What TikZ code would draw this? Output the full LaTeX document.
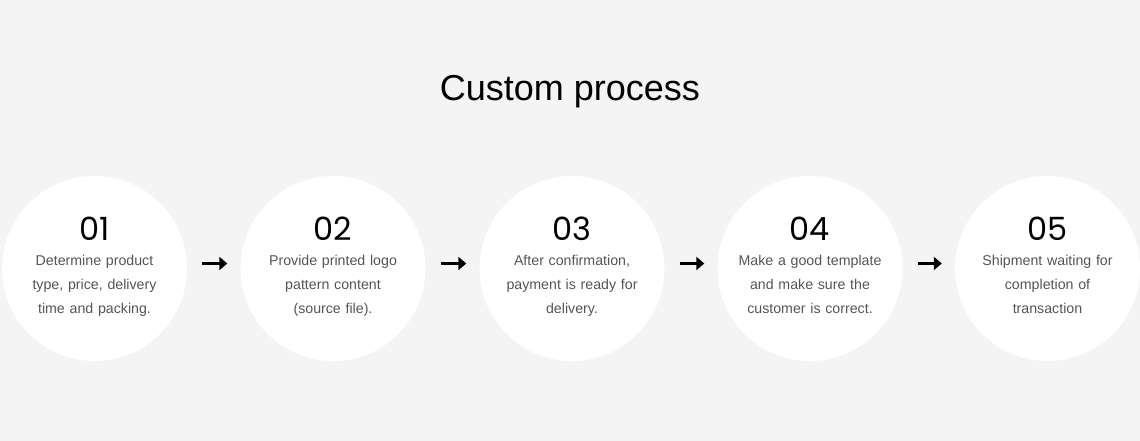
\documentclass[tikz,border=0pt]{standalone}
\usepackage{fontspec}
\setmainfont{Liberation Sans}
\newfontfamily\numfont{Poppins}
\usetikzlibrary{calc,arrows.meta}
\definecolor{bg}{HTML}{F4F4F4}
\definecolor{txt}{HTML}{555555}
\tikzset{
  stepcircle/.style={circle, fill=white, minimum size=185pt, inner sep=0pt},
  numlabel/.style={font=\numfont\fontsize{32pt}{32pt}\selectfont, text=black, inner sep=0pt},
  desclabel/.style={font=\fontsize{14.2pt}{24pt}\selectfont, text=txt, align=center, inner sep=0pt, text width=160pt, anchor=base},
  flowarrow/.style={line width=3pt, -{Triangle[length=8pt,width=13pt]}, black}
}
\begin{document}
\begin{tikzpicture}[x=1pt,y=1pt]
\useasboundingbox[fill=bg] (0,0) rectangle (1140,-441);
\node[font=\fontsize{36pt}{36pt}\selectfont] (title) at (570,-92) {Custom process};
\foreach \i/\x/\t in {1/94.5/{Determine product\\type, price, delivery\\time and packing.},
                      2/333/{Provide printed logo\\pattern content\\(source file).},
                      3/572/{After confirmation,\\payment is ready for\\delivery.},
                      4/810/{Make a good template\\and make sure the\\customer is correct.},
                      5/1047.5/{Shipment waiting for\\completion of\\transaction}}{
  \node[stepcircle] (c\i) at (\x,-268.5) {};
  \node[numlabel] (n\i) at ($(c\i)+(0,40)$) {0\i};
  \node[desclabel] (d\i) at ($(c\i)+(0,3.5)$) {\t};
}
\foreach \i/\j in {1/2,2/3,3/4,4/5}{
  \draw[flowarrow] ($(c\i.east)+(15,5)$) -- ($(c\j.west)+(-13,5)$);
}
\end{tikzpicture}
\end{document}
